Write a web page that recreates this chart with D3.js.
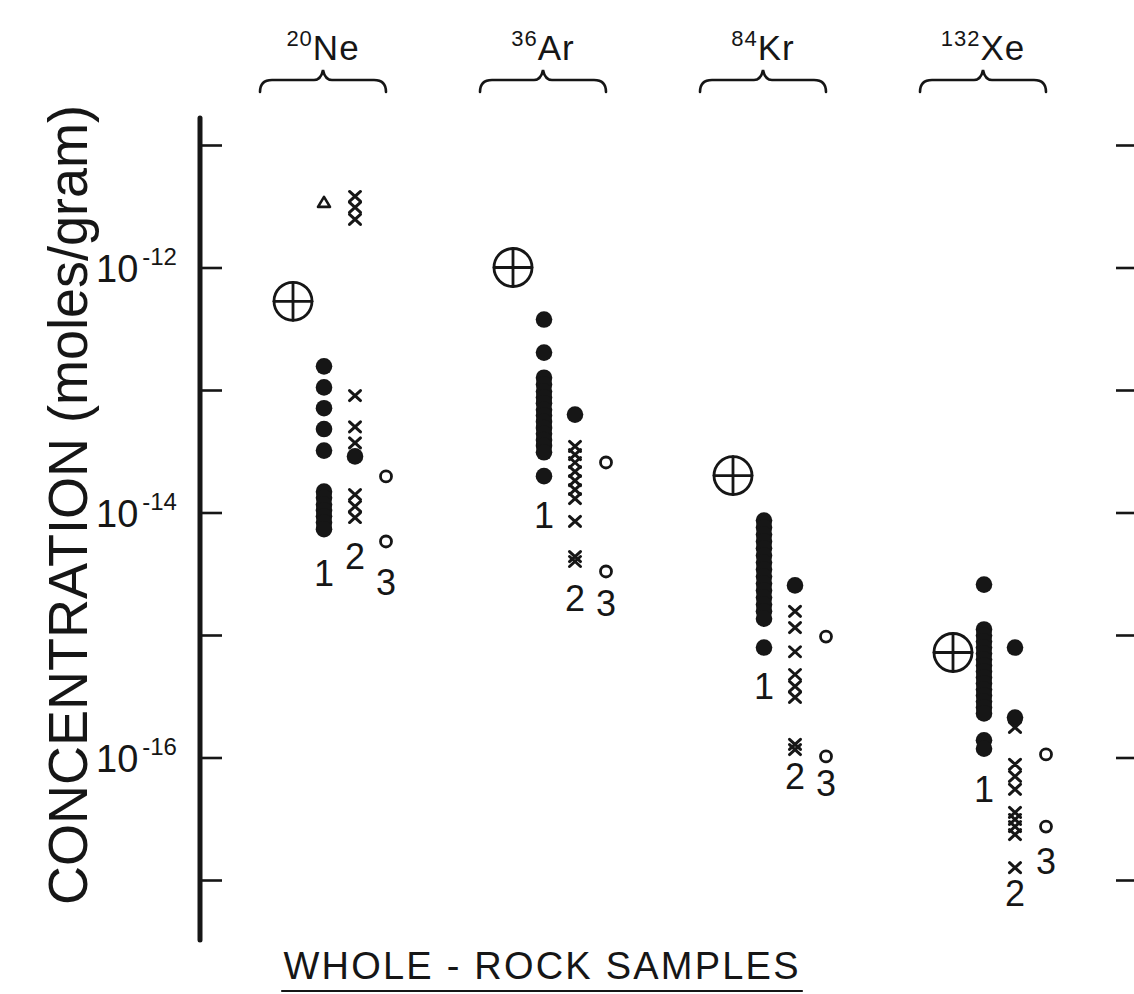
<!DOCTYPE html>
<html>
<head>
<meta charset="utf-8" />
<script src="https://cdn.jsdelivr.net/npm/d3@7"></script>
<style>
html, body { margin: 0; padding: 0; background: #fff; }
svg { display: block; }
.lettering { font-family: "Liberation Sans Narrow", "Liberation Sans", "DejaVu Sans", sans-serif; fill: #161616; }
.ink { stroke: #161616; fill: none; stroke-linecap: round; }
</style>
</head>
<body>
<svg id="chart" width="1134" height="994"></svg>
<script>
// gases, in column order
var elements = ["Ne", "Ar", "Kr", "Xe"];
var massNumbers = ["20", "36", "84", "132"];

// atmospheric value (circled cross), moles/gram
var atmosphere = [5.3e-13, 1.0e-12, 2.0e-14, 7.2e-16];

// sample group 1: filled dots
var group1 = [
	[1.56e-13, 1.05e-13, 7.1e-14, 4.8e-14, 3.2e-14, 1.48e-14, 1.32e-14, 1.16e-14, 1.04e-14, 9.3e-15, 8.3e-15, 7.3e-15],
	[3.76e-13, 2.02e-13, 1.26e-13, 1.11e-13, 9.7e-14, 8.7e-14, 7.8e-14, 6.9e-14, 6.2e-14, 5.5e-14, 4.9e-14, 4.4e-14, 3.9e-14, 3.5e-14, 3.1e-14, 1.98e-14],
	[8.6e-15, 7.55e-15, 6.6e-15, 5.8e-15, 5.1e-15, 4.46e-15, 3.9e-15, 3.43e-15, 3.0e-15, 2.63e-15, 2.31e-15, 2.02e-15, 1.77e-15, 1.56e-15, 1.36e-15, 7.9e-16],
	[2.58e-15, 1.11e-15, 9.9e-16, 8.85e-16, 7.9e-16, 7.06e-16, 6.3e-16, 5.64e-16, 5.04e-16, 4.5e-16, 4.02e-16, 3.59e-16, 3.21e-16, 2.86e-16, 2.56e-16, 2.29e-16, 1.38e-16, 1.18e-16]
];

// sample group 2: crosses, plus a few filled dots
var group2Cross = [
	[3.8e-12, 3.09e-12, 2.47e-12, 9.0e-14, 5.0e-14, 3.7e-14, 1.4e-14, 1.12e-14, 9.1e-15],
	[3.46e-14, 2.97e-14, 2.56e-14, 2.16e-14, 1.82e-14, 1.54e-14, 1.3e-14, 8.45e-15, 4.37e-15, 3.98e-15],
	[1.56e-15, 1.15e-15, 7.3e-16, 4.76e-16, 3.8e-16, 3.09e-16, 1.28e-16, 1.16e-16],
	[1.76e-16, 8.8e-17, 7.0e-17, 5.5e-17, 3.56e-17, 3.12e-17, 2.73e-17, 2.35e-17, 1.26e-17]
];
var group2Dot = [
	[2.87e-14],
	[6.3e-14],
	[2.54e-15],
	[7.9e-16, 2.12e-16]
];

// sample group 3: open circles
var group3 = [
	[1.97e-14, 5.8e-15],
	[2.56e-14, 3.3e-15],
	[9.7e-16, 1.02e-16],
	[1.06e-16, 2.73e-17]
];

// single open triangle (neon only)
var triangles = [[3.4e-12], [], [], []];

// where the group numbers are written
var labelNames = ["1", "2", "3"];
var labelValues = [
	[3.2e-15, 4.4e-15, 2.7e-15],
	[9.6e-15, 2.0e-15, 1.84e-15],
	[3.8e-16, 7.0e-17, 6.25e-17],
	[5.5e-17, 7.9e-18, 1.42e-17]
];

var tickValues = [1e-11, 1e-12, 1e-13, 1e-14, 1e-15, 1e-16, 1e-17];
var labelledTicks = [1e-12, 1e-14, 1e-16];

var svg = d3.select("#chart");

var y = d3.scaleLog().domain([1e-11, 1e-17]).range([145, 880]);
var x = d3.scalePoint().domain(elements).range([324, 984]);
var colOffset = { atm: -31, g1: 0, g2: 31, g3: 62 };

// left axis
svg.append("line").attr("class", "ink")
	.attr("x1", 200).attr("x2", 200).attr("y1", 118).attr("y2", 940)
	.attr("stroke-width", 5);

var leftAxis = svg.append("g").attr("transform", "translate(200,0)")
	.call(d3.axisRight(y).tickValues(tickValues).tickSize(22).tickFormat(""));
leftAxis.select(".domain").remove();
leftAxis.selectAll("line").attr("stroke", "#161616").attr("stroke-width", 2.6);

// right-hand ticks, cut off by the page edge
var rightAxis = svg.append("g").attr("transform", "translate(1134,0)")
	.call(d3.axisLeft(y).tickValues(tickValues).tickSize(18).tickFormat(""));
rightAxis.select(".domain").remove();
rightAxis.selectAll("line").attr("stroke", "#161616").attr("stroke-width", 2.6);

// tick labels 10^-n
labelledTicks.forEach(function(v) {
	var t = svg.append("text").attr("class", "lettering")
		.attr("x", 96).attr("y", y(v) + 14)
		.attr("font-size", 38);
	t.append("tspan").text("10");
	t.append("tspan").attr("font-size", 24).attr("dy", -17).attr("dx", 4)
		.text("-" + Math.round(-Math.log10(v)));
});

// y title
svg.append("text").attr("class", "lettering")
	.attr("transform", "translate(87,505) rotate(-90)")
	.attr("text-anchor", "middle")
	.attr("font-size", 55)
	.attr("textLength", 800).attr("lengthAdjust", "spacingAndGlyphs")
	.text("CONCENTRATION (moles/gram)");

// headers with braces
elements.forEach(function(el, i) {
	var cx = x(el) - 1;
	var t = svg.append("text").attr("class", "lettering")
		.attr("x", cx).attr("y", 60).attr("text-anchor", "middle")
		.attr("font-size", 35).attr("letter-spacing", 1);
	t.append("tspan").attr("font-size", 22).attr("dy", -14).text(massNumbers[i]);
	t.append("tspan").attr("dy", 14).text(el);

	var half = 63;
	var p = d3.path();
	p.moveTo(cx - half, 92);
	p.quadraticCurveTo(cx - half, 80, cx - half + 12, 80);
	p.lineTo(cx - 9, 80);
	p.quadraticCurveTo(cx - 2, 80, cx, 70);
	p.quadraticCurveTo(cx + 2, 80, cx + 9, 80);
	p.lineTo(cx + half - 12, 80);
	p.quadraticCurveTo(cx + half, 80, cx + half, 92);
	svg.append("path").attr("class", "ink").attr("stroke-width", 2.6).attr("d", p.toString());
});

// marks
var marks = svg.append("g");

elements.forEach(function(el, i) {
	var x0 = x(el);

	// atmosphere: circled cross
	var ax = x0 + colOffset.atm, ay = y(atmosphere[i]), r = 19;
	var g = marks.append("g").attr("class", "ink").attr("stroke-width", 2.8);
	g.append("circle").attr("cx", ax).attr("cy", ay).attr("r", r);
	g.append("line").attr("x1", ax - r).attr("x2", ax + r).attr("y1", ay).attr("y2", ay);
	g.append("line").attr("x1", ax).attr("x2", ax).attr("y1", ay - r).attr("y2", ay + r);

	marks.selectAll(null).data(group1[i]).enter().append("circle")
		.attr("cx", x0 + colOffset.g1).attr("cy", function(d) { return y(d); })
		.attr("r", 8.3).attr("fill", "#161616");

	marks.selectAll(null).data(group2Dot[i]).enter().append("circle")
		.attr("cx", x0 + colOffset.g2).attr("cy", function(d) { return y(d); })
		.attr("r", 8.3).attr("fill", "#161616");

	marks.selectAll(null).data(group2Cross[i]).enter().append("path")
		.attr("class", "ink").attr("stroke-width", 3)
		.attr("d", function(d) {
			var cx = x0 + colOffset.g2, cy = y(d);
			return "M" + (cx - 5.5) + "," + (cy - 5) + "L" + (cx + 5.5) + "," + (cy + 5) +
				"M" + (cx + 5.5) + "," + (cy - 5) + "L" + (cx - 5.5) + "," + (cy + 5);
		});

	marks.selectAll(null).data(group3[i]).enter().append("circle")
		.attr("class", "ink").attr("stroke-width", 2.8)
		.attr("cx", x0 + colOffset.g3).attr("cy", function(d) { return y(d); })
		.attr("r", 5.5);

	marks.selectAll(null).data(triangles[i]).enter().append("path")
		.attr("class", "ink").attr("stroke-width", 2.6).attr("stroke-linejoin", "round")
		.attr("d", function(d) {
			var cx = x0 + colOffset.g1, cy = y(d);
			return "M" + cx + "," + (cy - 5.5) + "L" + (cx + 6) + "," + (cy + 4.5) + "L" + (cx - 6) + "," + (cy + 4.5) + "Z";
		});

	// group numbers
	var offs = [colOffset.g1, colOffset.g2, colOffset.g3];
	labelValues[i].forEach(function(v, k) {
		marks.append("text").attr("class", "lettering")
			.attr("x", x0 + offs[k]).attr("y", y(v) + 13)
			.attr("text-anchor", "middle").attr("font-size", 36)
			.text(labelNames[k]);
	});
});

// bottom title
svg.append("text").attr("class", "lettering")
	.attr("x", 541).attr("y", 979).attr("text-anchor", "middle")
	.attr("font-size", 38)
	.attr("textLength", 515).attr("lengthAdjust", "spacing")
	.text("WHOLE - ROCK  SAMPLES");
svg.append("line").attr("class", "ink").attr("stroke-width", 2.2)
	.attr("x1", 282).attr("x2", 802).attr("y1", 991).attr("y2", 991);
</script>
</body>
</html>
